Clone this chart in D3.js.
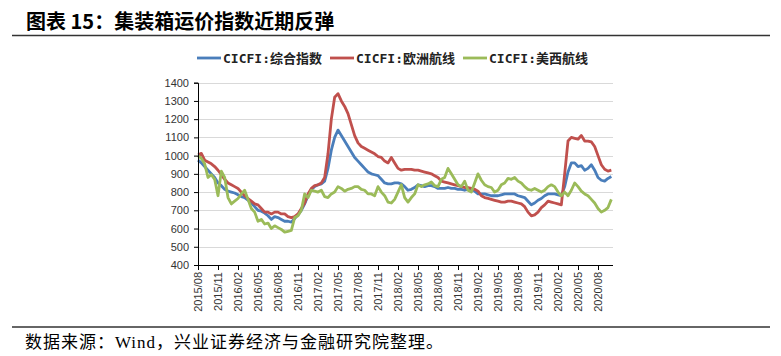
<!DOCTYPE html>
<html><head><meta charset="utf-8">
<script src="https://cdn.jsdelivr.net/npm/d3@7"></script>
<style>
html,body{margin:0;padding:0;background:#fff;}
svg{display:block;}
</style></head>
<body><svg id="c" width="781" height="356"></svg>
<script>
// semi-monthly observations, starting 2015/08 (index step = half a month)
const seriesNames = ["CICFI:综合指数", "CICFI:欧洲航线", "CICFI:美西航线"];
const composite = [
 975,960,940,920,900,880,850,835,815,805,
 800,795,785,775,770,755,740,720,700,695,
 685,670,650,665,660,650,640,640,635,655,
 675,700,735,780,815,830,840,845,860,930,
 1030,1100,1140,1110,1080,1050,1020,990,970,950,
 930,910,900,895,890,870,850,845,845,850,
 850,845,830,810,815,825,840,835,830,835,
 835,830,820,820,820,825,820,820,815,815,
 810,815,820,805,790,790,790,785,780,780,
 780,785,790,790,790,790,780,775,770,750,
 730,740,755,765,780,790,790,790,785,780,
 830,910,960,960,940,945,920,930,950,920,
 880,865,860,875,885];
const europe = [
 1005,1012,975,965,955,940,920,895,870,850,
 840,830,820,800,780,765,750,735,730,710,
 690,690,680,690,690,680,680,665,660,665,
 680,710,740,790,820,835,840,850,880,1010,
 1200,1320,1340,1300,1270,1230,1170,1110,1070,1050,
 1040,1030,1020,1010,995,990,970,960,990,960,
 930,920,925,925,925,920,920,915,910,905,
 900,890,880,860,855,850,845,840,835,830,
 825,825,820,815,805,780,770,765,760,755,
 750,745,745,750,750,745,740,735,720,690,
 670,675,690,715,730,750,745,740,735,730,
 900,1080,1100,1095,1090,1110,1080,1080,1075,1050,
 1000,950,925,915,920];
const usWest = [
 1000,985,955,880,895,870,780,915,880,770,
 735,750,765,790,810,760,710,690,640,650,
 625,630,600,615,605,595,580,585,590,660,
 670,700,790,770,810,805,800,810,775,770,
 790,800,830,820,805,815,820,830,830,815,
 810,790,790,780,830,800,780,745,740,760,
 800,840,770,745,770,790,840,830,840,845,
 855,835,830,870,880,930,900,870,840,830,
 860,810,800,850,900,865,840,830,825,800,
 810,840,850,875,870,880,860,850,830,815,
 810,820,810,800,810,830,840,830,800,780,
 800,780,810,850,830,805,790,780,760,740,
 710,690,700,715,760];
const xTickLabels = ["2015/08","2015/11","2016/02","2016/05","2016/08","2016/11","2017/02","2017/05","2017/08","2017/11","2018/02","2018/05","2018/08","2018/11","2019/02","2019/05","2019/08","2019/11","2020/02","2020/05","2020/08"];
const yTicks = [400,500,600,700,800,900,1000,1100,1200,1300,1400];
const colors = ["#4a7ebb","#c0504d","#9bbb59"];
const allSeries = [composite, europe, usWest];

const svg = d3.select("#c");
svg.append("rect").attr("width",781).attr("height",356).attr("fill","#fff");

// title
svg.append("text").attr("x",26).attr("y",29)
  .attr("font-family","'Noto Sans CJK SC', sans-serif").attr("font-weight",700)
  .attr("font-size",20).attr("fill","#000")
  .text("图表 15：集装箱运价指数近期反弹");
svg.append("line").attr("x1",12).attr("x2",770).attr("y1",35.5).attr("y2",35.5)
  .attr("stroke","#333").attr("stroke-width",1.5);

// footer
svg.append("line").attr("x1",12).attr("x2",770).attr("y1",327).attr("y2",327)
  .attr("stroke","#333").attr("stroke-width",1.5);
svg.append("text").attr("x",25).attr("y",348)
  .attr("font-family","'Liberation Serif','Noto Sans CJK SC', serif")
  .attr("font-size",17).attr("letter-spacing",1).attr("fill","#000")
  .text("数据来源：Wind，兴业证券经济与金融研究院整理。");

const x = d3.scaleLinear().domain([0,124.5]).range([198,613]);
const y = d3.scaleLinear().domain([400,1400]).range([265,82.7]);

// gridlines
svg.append("g").selectAll("line").data(yTicks.filter(v=>v>400)).join("line")
  .attr("x1",198).attr("x2",613).attr("y1",d=>Math.round(y(d))+0.5).attr("y2",d=>Math.round(y(d))+0.5)
  .attr("stroke","#d9d9d9").attr("stroke-width",1);

// lines
const line = d3.line().x((d,i)=>x(i)).y(d=>y(d));
allSeries.forEach((s,k)=>{
  svg.append("path").datum(s).attr("d",line).attr("fill","none")
    .attr("stroke",colors[k]).attr("stroke-width",2.8).attr("stroke-linejoin","round");
});

// axes
const yAxis = svg.append("g").attr("transform","translate(198,0)")
  .call(d3.axisLeft(y).tickValues(yTicks).tickSize(4).tickPadding(5).tickFormat(d3.format("d")));
yAxis.select(".domain").attr("stroke","#000");
yAxis.selectAll(".tick line").attr("stroke","#000");
yAxis.selectAll("text").attr("font-family","Arial, 'Liberation Sans', sans-serif").attr("font-size",11).attr("fill","#333");

const xAxis = svg.append("g").attr("transform","translate(0,265)")
  .call(d3.axisBottom(x).tickValues(xTickLabels.map((d,i)=>i*6)).tickSize(5).tickSizeOuter(0)
    .tickFormat((d,i)=>xTickLabels[i]));
xAxis.select(".domain").attr("stroke","#000").attr("d","M198,0.5H613");
xAxis.selectAll(".tick line").attr("stroke","#000");
xAxis.selectAll("text").attr("font-family","Arial, 'Liberation Sans', sans-serif").attr("font-size",11).attr("fill","#333")
  .attr("transform","rotate(-90)").attr("x",-7).attr("y",0).attr("dy","0.35em").attr("text-anchor","end");

// legend
const legX = [197,330,463];
seriesNames.forEach((n,k)=>{
  const g = svg.append("g").attr("transform",`translate(${legX[k]},58)`);
  g.append("line").attr("x1",0).attr("x2",24).attr("y1",0).attr("y2",0)
    .attr("stroke",colors[k]).attr("stroke-width",2.8);
  g.append("text").attr("x",26).attr("y",4.5)
    .attr("font-family","'DejaVu Sans Mono','Noto Sans CJK SC', monospace").attr("font-weight",700)
    .attr("font-size",13).attr("fill","#222").text(n);
});
</script></body></html>
